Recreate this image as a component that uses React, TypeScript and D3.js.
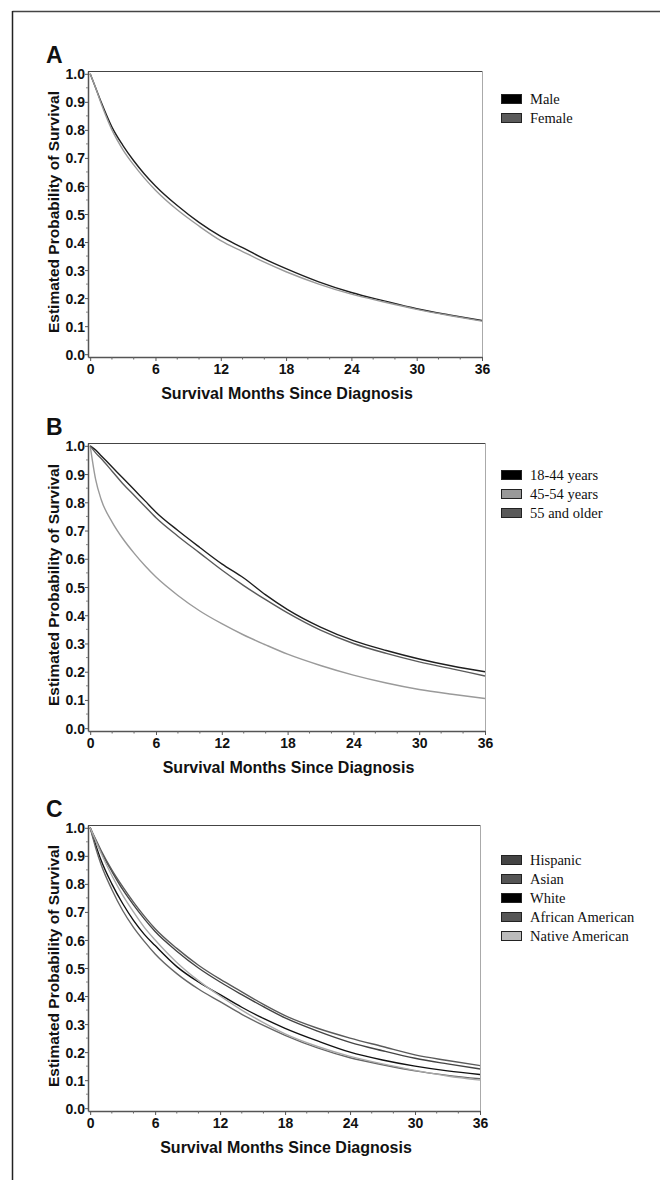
import React, { useEffect, useRef } from 'react';
import * as d3 from 'd3';

const months = [0, 0.5, 1, 2, 3, 4, 5, 6, 8, 10, 12, 14, 16, 18, 21, 24, 27, 30, 33, 36];

// panel A: sex
const sexLabels = ['Male', 'Female'];
const male = [1.0, 0.95, 0.9, 0.81, 0.745, 0.69, 0.642, 0.6, 0.53, 0.47, 0.42, 0.38, 0.34, 0.305, 0.258, 0.22, 0.19, 0.162, 0.14, 0.12];
const female = [1.0, 0.95, 0.895, 0.8, 0.73, 0.675, 0.627, 0.585, 0.515, 0.457, 0.405, 0.366, 0.328, 0.294, 0.25, 0.214, 0.186, 0.16, 0.138, 0.118];

// panel B: age group
const ageLabels = ['18-44 years', '45-54 years', '55 and older'];
const age18to44 = [1.0, 0.985, 0.965, 0.925, 0.885, 0.845, 0.805, 0.765, 0.7, 0.64, 0.582, 0.532, 0.472, 0.42, 0.358, 0.31, 0.275, 0.245, 0.22, 0.2];
const age45to54 = [1.0, 0.88, 0.81, 0.73, 0.67, 0.62, 0.575, 0.535, 0.47, 0.415, 0.37, 0.33, 0.295, 0.262, 0.222, 0.188, 0.16, 0.137, 0.12, 0.105];
const age55plus = [1.0, 0.975, 0.955, 0.91, 0.865, 0.825, 0.785, 0.745, 0.68, 0.62, 0.56, 0.505, 0.455, 0.408, 0.347, 0.3, 0.265, 0.235, 0.21, 0.185];

// panel C: race / ethnicity
const raceLabels = ['Hispanic', 'Asian', 'White', 'African American', 'Native American'];
const hispanic = [1.0, 0.955, 0.915, 0.845, 0.78, 0.725, 0.675, 0.63, 0.56, 0.5, 0.45, 0.405, 0.362, 0.322, 0.275, 0.235, 0.205, 0.178, 0.158, 0.14];
const asian = [1.0, 0.96, 0.92, 0.85, 0.79, 0.735, 0.685, 0.64, 0.57, 0.51, 0.46, 0.415, 0.37, 0.33, 0.285, 0.25, 0.22, 0.19, 0.17, 0.152];
const white = [1.0, 0.94, 0.885, 0.8, 0.73, 0.67, 0.62, 0.58, 0.505, 0.45, 0.405, 0.36, 0.32, 0.285, 0.24, 0.2, 0.172, 0.15, 0.133, 0.12];
const africanAmerican = [1.0, 0.93, 0.87, 0.78, 0.705, 0.645, 0.595, 0.55, 0.48, 0.425, 0.38, 0.335, 0.295, 0.26, 0.215, 0.18, 0.155, 0.133, 0.117, 0.105];
const nativeAmerican = [1.0, 0.955, 0.91, 0.83, 0.76, 0.7, 0.645, 0.6, 0.52, 0.455, 0.4, 0.35, 0.305, 0.265, 0.22, 0.185, 0.158, 0.135, 0.115, 0.1];

const xTicks = [0, 6, 12, 18, 24, 30, 36];
const yTicks = [0, 0.1, 0.2, 0.3, 0.4, 0.5, 0.6, 0.7, 0.8, 0.9, 1.0];

const SANS = 'Arial, "Liberation Sans", Helvetica, sans-serif';
const SERIF = '"Times New Roman", "Liberation Serif", serif';

const panels = [
  {
    letter: 'A', top: 71, bottom: 357, right: 482, legendTop: 94,
    series: [male, female], labels: sexLabels,
    lineColors: ['#1e1e1e', '#9a9a9a'], swatches: ['#000', '#5a5a5a'],
  },
  {
    letter: 'B', top: 443, bottom: 731, right: 485, legendTop: 470,
    series: [age18to44, age45to54, age55plus], labels: ageLabels,
    lineColors: ['#1e1e1e', '#9a9a9a', '#5a5a5a'], swatches: ['#000', '#999', '#5a5a5a'],
  },
  {
    letter: 'C', top: 825, bottom: 1111, right: 480, legendTop: 855,
    series: [hispanic, asian, white, africanAmerican, nativeAmerican], labels: raceLabels,
    lineColors: ['#444', '#5a5a5a', '#111', '#666', '#aaa'], swatches: ['#444', '#555', '#000', '#555', '#bbb'],
  },
];

export default function App() {
  const ref = useRef<SVGSVGElement>(null);

  useEffect(() => {
    const svg = d3.select(ref.current);
    svg.selectAll('*').remove();

    // outer frame (top and left edges only)
    svg.append('line').attr('x1', 12.5).attr('x2', 660).attr('y1', 11.5).attr('y2', 11.5)
      .attr('stroke', '#444').attr('stroke-width', 1.5);
    svg.append('line').attr('x1', 12.5).attr('x2', 12.5).attr('y1', 11).attr('y2', 1180)
      .attr('stroke', '#222').attr('stroke-width', 1.5);

    const left = 88;

    panels.forEach((p) => {
      const g = svg.append('g');
      const x = d3.scaleLinear().domain([-0.2, 36]).range([left, p.right]);
      const y = d3.scaleLinear().domain([-0.01, 1.01]).range([p.bottom, p.top]);

      // plot frame
      g.append('line').attr('x1', left).attr('x2', p.right).attr('y1', p.top + 0.5).attr('y2', p.top + 0.5)
        .attr('stroke', '#444').attr('stroke-width', 1);
      g.append('line').attr('x1', p.right + 0.5).attr('x2', p.right + 0.5).attr('y1', p.top).attr('y2', p.bottom)
        .attr('stroke', '#aaa').attr('stroke-width', 1);

      // y axis
      const yAxis = g.append('g').attr('transform', `translate(${left},0)`)
        .call(d3.axisLeft(y).tickValues(yTicks).tickSize(3).tickSizeOuter(0).tickFormat(d3.format('.1f')));
      yAxis.select('.domain').attr('stroke', '#555').attr('stroke-width', 1.5);
      yAxis.selectAll('.tick line').attr('stroke', '#555');
      yAxis.selectAll('.tick text').attr('font-family', SANS).attr('font-weight', 'bold')
        .attr('font-size', 14).attr('fill', '#111').attr('x', -3).attr('dy', '0.36em');
      g.append('g').selectAll('line')
        .data(d3.range(0.05, 1, 0.1))
        .join('line')
        .attr('x1', left - 2).attr('x2', left)
        .attr('y1', (d) => y(d)).attr('y2', (d) => y(d))
        .attr('stroke', '#888');

      // x axis
      const xAxis = g.append('g').attr('transform', `translate(0,${p.bottom})`)
        .call(d3.axisBottom(x).tickValues(xTicks).tickSize(4).tickSizeOuter(0).tickFormat(d3.format('d')));
      xAxis.select('.domain').attr('stroke', '#555').attr('stroke-width', 1.5);
      xAxis.selectAll('.tick line').attr('stroke', '#555');
      xAxis.selectAll('.tick text').attr('font-family', SANS).attr('font-weight', 'bold')
        .attr('font-size', 14).attr('fill', '#111').attr('y', 7);
      g.append('g').selectAll('line')
        .data(d3.range(2, 36, 2).filter((d) => d % 6 !== 0))
        .join('line')
        .attr('x1', (d) => x(d)).attr('x2', (d) => x(d))
        .attr('y1', p.bottom).attr('y2', p.bottom + 2.5)
        .attr('stroke', '#666');

      // titles
      g.append('text').attr('x', (left + p.right) / 2 + 2).attr('y', p.bottom + 42)
        .attr('text-anchor', 'middle').attr('font-family', SANS).attr('font-weight', 'bold')
        .attr('font-size', 16).attr('fill', '#111').text('Survival Months Since Diagnosis');
      g.append('text')
        .attr('transform', `translate(59,${(p.top + p.bottom) / 2 - 2}) rotate(-90)`)
        .attr('text-anchor', 'middle').attr('font-family', SANS).attr('font-weight', 'bold')
        .attr('font-size', 15.5).attr('fill', '#111').text('Estimated Probability of Survival');
      g.append('text').attr('x', 46).attr('y', p.top - 8)
        .attr('font-family', SANS).attr('font-weight', 'bold').attr('font-size', 23)
        .attr('fill', '#111').text(p.letter);

      // curves
      const line = d3.line<number>()
        .x((_, i) => x(months[i]))
        .y((d) => y(d))
        .curve(d3.curveMonotoneX);
      p.series.forEach((s, i) => {
        g.append('path').datum(s)
          .attr('fill', 'none')
          .attr('stroke', p.lineColors[i])
          .attr('stroke-width', 1.4)
          .attr('d', line);
      });

      // legend
      const leg = g.append('g').attr('transform', `translate(501,${p.legendTop})`);
      p.labels.forEach((label, i) => {
        leg.append('rect').attr('x', 0.5).attr('y', i * 19 + 0.5).attr('width', 20).attr('height', 9)
          .attr('fill', p.swatches[i]).attr('stroke', '#222').attr('stroke-width', 1);
        leg.append('text').attr('x', 29).attr('y', i * 19 + 9.5)
          .attr('font-family', SERIF).attr('font-size', 14.5).attr('fill', '#111').text(label);
      });
    });
  }, []);

  return (
    <svg
      ref={ref}
      width={660}
      height={1180}
      style={{ position: 'absolute', left: 0, top: 0, background: '#fff' }}
    />
  );
}
